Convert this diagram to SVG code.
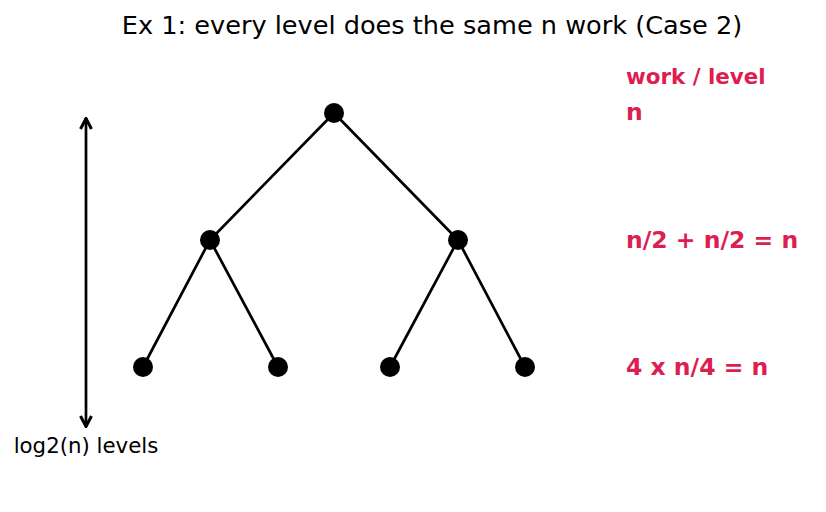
<svg xmlns="http://www.w3.org/2000/svg" width="826" height="512" viewBox="0 0 826 512">
<style>
.edge{stroke:#000;stroke-width:2.7;fill:none}
.node{fill:#000}
.t{font-family:"DejaVu Sans",sans-serif;fill:#000}
.r{font-family:"DejaVu Sans",sans-serif;fill:#dc1e50;font-weight:bold}
</style>
<defs>
<marker id="ah" viewBox="0 0 14 14" refX="13" refY="7" markerWidth="14" markerHeight="14" markerUnits="userSpaceOnUse" orient="auto-start-reverse">
<path d="M2,1.5 L12.5,7 L2,12.5" fill="none" stroke="#000" stroke-width="3"/>
</marker>
</defs>
<rect width="826" height="512" fill="#fff"/>
<text class="t" x="432" y="34" font-size="25.6" text-anchor="middle">Ex 1: every level does the same n work (Case 2)</text>
<g id="connectors">
<line class="edge" x1="334" y1="113" x2="210" y2="240"/>
<line class="edge" x1="334" y1="113" x2="458" y2="240"/>
<line class="edge" x1="210" y1="240" x2="143" y2="367"/>
<line class="edge" x1="210" y1="240" x2="278" y2="367"/>
<line class="edge" x1="458" y1="240" x2="390" y2="367"/>
<line class="edge" x1="458" y1="240" x2="525" y2="367"/>
<line class="edge" x1="86" y1="118" x2="86" y2="427" stroke-width="3" marker-start="url(#ah)" marker-end="url(#ah)"/>
</g>
<g id="n0"><circle class="node" cx="334" cy="113" r="10"/></g>
<g id="n1"><circle class="node" cx="210" cy="240" r="10"/></g>
<g id="n2"><circle class="node" cx="458" cy="240" r="10"/></g>
<g id="n3"><circle class="node" cx="143" cy="367" r="10"/></g>
<g id="n4"><circle class="node" cx="278" cy="367" r="10"/></g>
<g id="n5"><circle class="node" cx="390" cy="367" r="10"/></g>
<g id="n6"><circle class="node" cx="525" cy="367" r="10"/></g>
<text class="t" x="86" y="453" font-size="21.3" text-anchor="middle">log2(n) levels</text>
<text class="r" x="626" y="84" font-size="21.4">work / level</text>
<text class="r" x="626" y="120" font-size="23.5">n</text>
<text class="r" x="626" y="248" font-size="23.5">n/2 + n/2 = n</text>
<text class="r" x="626" y="375" font-size="23.5">4 x n/4 = n</text>
</svg>
